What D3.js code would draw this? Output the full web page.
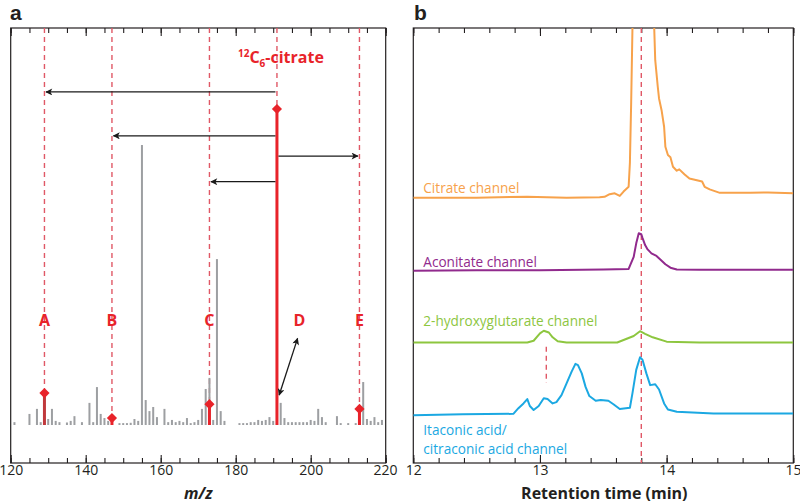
<!DOCTYPE html>
<html lang="en">
<head>
    <meta charset="utf-8">
    <title>MS/MS spectrum and channels</title>
    <script src="https://d3js.org/d3.v7.min.js"></script>
    <style>
        body { margin: 0; background: #fff; }
        svg { font-family: 'Open Sans', 'Noto Sans', sans-serif; }
    </style>
</head>
<body>
<svg width="800" height="504" id="mainsvg"></svg>

<script>
    // ---- panel a: spectrum (relative intensity, precursor = 100)
    const spectrumMz  = [121, 125, 127, 128, 130, 131, 132, 133, 135, 136, 137, 139, 141, 142, 143, 144, 145, 146,
                         149, 150, 151, 152, 153, 154, 155, 156, 157, 158, 159, 161, 162, 163, 164, 165, 166, 167,
                         168, 169, 170, 171, 172, 173, 174, 175, 176, 177, 181, 182, 183, 184, 185, 186, 187, 188,
                         189, 190, 192, 193, 194, 195, 196, 197, 198, 199, 200, 201, 202, 203, 204, 207, 208, 210,
                         212, 214, 215, 216, 217, 218, 219]
    const spectrumInt = [0.9, 3.5, 5.1, 0.9, 1.9, 5.1, 1.3, 0.9, 0.8, 1.3, 2.8, 0.9, 7.0, 0.9, 12.0, 3.5, 2.2, 1.3,
                         0.6, 0.6, 0.6, 0.7, 1.9, 1.3, 88.6, 7.9, 4.4, 5.7, 2.5, 5.1, 0.9, 1.6, 0.9, 1.3, 0.9, 2.2,
                         0.6, 0.9, 1.6, 5.1, 11.4, 14.9, 1.6, 52.5, 4.4, 1.3, 0.6, 0.6, 0.6, 0.9, 0.9, 1.6, 1.3, 1.6,
                         2.5, 1.3, 7.0, 2.2, 0.9, 0.9, 0.9, 0.9, 0.9, 0.9, 1.6, 1.3, 5.1, 2.5, 0.9, 2.8, 0.6, 0.6,
                         0.6, 13.6, 1.9, 1.3, 2.5, 0.9, 1.6]

    const precursorMz = 191
    const precursorInt = 100
    const fragmentMz = [129, 147, 173, 213]
    const fragmentInt = [10.1, 2.2, 6.6, 5.1]
    const fragmentLabels = ['A', 'B', 'C', 'E']
    const arrowLevels = [105.4, 91.5, 77.0, 85.1]   // neutral-loss arrows, same order as fragments
    const labelLevel = 33.2
    const dLabel = {mz: 197, text: 'D', from: [191.6, 9.5], to: [196.5, 27.4]}

    const mzMajor = d3.range(120, 221, 20)
    const mzMinor = d3.range(120, 221, 5)

    // ---- panel b: extracted ion channels (stacked, arbitrary units)
    const citrateTime = [12.0, 12.5, 12.9, 13.21, 13.47, 13.51, 13.55, 13.59, 13.63, 13.66, 13.7, 13.71, 13.72, 13.745,
                         13.875, 13.91, 13.93, 13.94, 13.96, 13.98, 13.99, 14.01, 14.03, 14.05, 14.08, 14.1, 14.14,
                         14.18, 14.28, 14.3, 14.34, 14.42, 14.66, 14.8, 15.0]
    const citrateVal  = [61.0, 61.0, 61.2, 61.0, 61.1, 61.2, 61.8, 62.0, 61.4, 62.4, 63.5, 69.0, 82.8, 125,
                         125, 92.6, 86.5, 83.8, 81.1, 77.3, 72.7, 70.8, 70.3, 68.1, 67.2, 67.5, 66.4,
                         65.4, 64.7, 63.5, 62.9, 62.1, 62.1, 62.2, 62.0]

    const aconitateTime = [12.0, 12.5, 13.0, 13.5, 13.7, 13.74, 13.76, 13.78, 13.8, 13.81, 13.83, 13.85, 13.88, 13.92,
                           13.95, 13.99, 14.03, 14.08, 14.26, 15.0]
    const aconitateVal  = [44.2, 44.3, 44.3, 44.5, 44.6, 47.4, 50.5, 52.8, 52.6, 51.7, 50.1, 49.1, 48.2, 47.6,
                           46.8, 45.7, 44.9, 44.5, 44.4, 44.4]

    const hgTime = [12.0, 12.5, 12.9, 12.95, 13.0, 13.03, 13.07, 13.1, 13.14, 13.21, 13.61, 13.74, 13.79, 13.83,
                    13.89, 14.0, 14.26, 15.0]
    const hgVal  = [27.7, 27.7, 27.7, 28.1, 29.8, 30.4, 30.0, 28.9, 28.0, 27.7, 27.7, 29.2, 30.3, 29.7,
                    28.9, 27.9, 27.7, 27.7]

    const itaTime = [12.0, 12.39, 12.79, 12.83, 12.87, 12.9, 12.92, 12.95, 12.99, 13.03, 13.06, 13.1, 13.13, 13.17,
                     13.21, 13.25, 13.28, 13.3, 13.33, 13.36, 13.39, 13.44, 13.48, 13.54, 13.58, 13.63, 13.71,
                     13.73, 13.76, 13.79, 13.81, 13.84, 13.87, 13.91, 13.94, 13.98, 14.01, 14.08, 14.37, 14.63, 15.0]
    const itaVal  = [11.0, 11.2, 11.3, 12.6, 13.7, 14.7, 13.1, 12.2, 13.1, 14.9, 14.7, 13.7, 14.0, 15.6,
                     18.3, 21.0, 22.8, 22.5, 20.6, 17.5, 15.4, 14.3, 14.5, 14.3, 13.5, 12.4, 12.7,
                     16.0, 21.4, 24.3, 23.7, 20.6, 17.9, 18.1, 16.9, 13.7, 12.3, 11.8, 11.4, 11.4, 11.4]

    const channelNames = ['Citrate channel', 'Aconitate channel', '2-hydroxyglutarate channel',
                          ['Itaconic acid/', 'citraconic acid channel']]
    const channelLabelVal = [62.0, 45.1, 31.5, 6.5]
    const channelColors = ['#f7a24b', '#912a8d', '#8dc63f', '#1ba8e2']

    const rtMajor = [12, 13, 14, 15]
    const rtMinor = d3.range(12, 15.01, 0.2)
    const citrateRT = 13.8
    const hgMarkRT = 13.05
    const hgMarkRange = [18.4, 26.7]

    // ---------------------------------------------------------------
    const svg = d3.select('#mainsvg')
    const red = '#e8232a'
    const dashRed = '#e05866'
    const frameTop = 28, frameBottom = 463

    const defs = svg.append('defs')
    const addMarker = (id, orient) => defs.append('marker')
        .attr('id', id)
        .attr('viewBox', '0 0 10 10')
        .attr('refX', 9).attr('refY', 5)
        .attr('markerWidth', 9).attr('markerHeight', 7)
        .attr('markerUnits', 'userSpaceOnUse')
        .attr('orient', orient)
        .append('path').attr('d', 'M0,0 L10,5 L0,10 L2.5,5 z').attr('fill', '#1a1a1a')
    addMarker('arrow', 'auto')
    addMarker('arrowStart', 'auto-start-reverse')

    // axis helper: frame with inward ticks on top and bottom
    const drawFrame = function (g, x, major, minor, fmt) {
        const [x0, x1] = x.range()
        g.append('rect').attr('x', x0).attr('y', frameTop)
            .attr('width', x1 - x0).attr('height', frameBottom - frameTop)
            .attr('fill', 'none').attr('stroke', '#231f20').attr('stroke-width', 1.2)

        const bottomMinor = g.append('g').attr('transform', `translate(0, ${frameBottom})`)
            .call(d3.axisBottom(x).tickValues(minor).tickSize(-5).tickFormat(''))
        const bottomMajor = g.append('g').attr('transform', `translate(0, ${frameBottom})`)
            .call(d3.axisBottom(x).tickValues(major).tickSize(-8).tickPadding(2).tickFormat(fmt))
        const topMinor = g.append('g').attr('transform', `translate(0, ${frameTop})`)
            .call(d3.axisTop(x).tickValues(minor).tickSize(-5).tickFormat(''))
        const topMajor = g.append('g').attr('transform', `translate(0, ${frameTop})`)
            .call(d3.axisTop(x).tickValues(major).tickSize(-8).tickFormat(''))
        ;[bottomMinor, bottomMajor, topMinor, topMajor].forEach(a => {
            a.selectAll('.domain').remove()
            a.selectAll('.tick line').attr('stroke', '#231f20').attr('stroke-width', 1.1)
        })
        bottomMajor.attr('font-family', null).attr('font-size', null)
        bottomMajor.selectAll('.tick text')
            .attr('font-size', '14px').attr('fill', '#231f20')
        // keep the last label inside the page
        bottomMajor.selectAll('.tick:last-of-type text')
            .attr('text-anchor', 'end').attr('dx', x1 > 790 ? '0.55em' : '0.8em')
    }

    // ================= panel a =================
    const xA = d3.scaleLinear().domain([120, 220]).range([10.7, 385.7])
    const yA = d3.scaleLinear().domain([0, 100]).range([425, 109])
    const gA = svg.append('g')

    drawFrame(gA, xA, mzMajor, mzMinor, d3.format('d'))

    // dashed guides down to each diamond
    fragmentMz.concat([precursorMz]).forEach((m, i) => {
        const v = i < fragmentMz.length ? fragmentInt[i] : precursorInt
        gA.append('line')
            .attr('x1', xA(m)).attr('x2', xA(m))
            .attr('y1', frameTop).attr('y2', yA(v))
            .attr('stroke', dashRed).attr('stroke-width', 1.4)
            .attr('stroke-dasharray', '5,4')
    })

    // gray spectrum bars
    gA.selectAll('.bar').data(spectrumMz).join('rect')
        .attr('class', 'bar')
        .attr('x', d => xA(d) - 1)
        .attr('width', 2)
        .attr('y', (d, i) => yA(spectrumInt[i]))
        .attr('height', (d, i) => yA(0) - yA(spectrumInt[i]))
        .attr('fill', '#9d9fa2')

    // red fragment bars + precursor
    fragmentMz.forEach((m, i) => {
        gA.append('rect')
            .attr('x', xA(m) - 1.5).attr('width', 3)
            .attr('y', yA(fragmentInt[i])).attr('height', yA(0) - yA(fragmentInt[i]))
            .attr('fill', i === 0 ? '#c0393c' : red)
    })
    gA.append('rect')
        .attr('x', xA(precursorMz) - 1.5).attr('width', 3)
        .attr('y', yA(precursorInt)).attr('height', yA(0) - yA(precursorInt))
        .attr('fill', red)

    const diamond = d3.symbol().type(d3.symbolSquare).size(52)
    fragmentMz.concat([precursorMz]).forEach((m, i) => {
        const v = i < fragmentMz.length ? fragmentInt[i] : precursorInt
        gA.append('path').attr('d', diamond())
            .attr('transform', `translate(${xA(m)}, ${yA(v)}) rotate(45)`)
            .attr('fill', red)
    })

    // neutral-loss arrows from the precursor
    fragmentMz.forEach((m, i) => {
        const dir = m < precursorMz ? -1 : 1
        gA.append('line')
            .attr('x1', xA(precursorMz) + dir * 1.5).attr('x2', xA(m) - dir * 1.5)
            .attr('y1', yA(arrowLevels[i])).attr('y2', yA(arrowLevels[i]))
            .attr('stroke', '#1a1a1a').attr('stroke-width', 1.3)
            .attr('marker-end', 'url(#arrow)')
    })

    // fragment letters
    fragmentMz.forEach((m, i) => {
        gA.append('text').text(fragmentLabels[i])
            .attr('x', xA(m)).attr('y', yA(labelLevel))
            .attr('text-anchor', 'middle').attr('dy', '0.36em')
            .attr('font-size', '16px').attr('font-weight', 'bold').attr('fill', red)
    })
    gA.append('text').text(dLabel.text)
        .attr('x', xA(dLabel.mz)).attr('y', yA(labelLevel))
        .attr('text-anchor', 'middle').attr('dy', '0.36em')
        .attr('font-size', '16px').attr('font-weight', 'bold').attr('fill', red)
    gA.append('line')
        .attr('x1', xA(dLabel.from[0])).attr('y1', yA(dLabel.from[1]))
        .attr('x2', xA(dLabel.to[0])).attr('y2', yA(dLabel.to[1]))
        .attr('stroke', '#1a1a1a').attr('stroke-width', 1.3)
        .attr('marker-start', 'url(#arrowStart)').attr('marker-end', 'url(#arrow)')

    // precursor label 12C6-citrate
    const citLabel = gA.append('text')
        .attr('x', xA(precursorMz) - 39).attr('y', 63)
        .attr('font-size', '16px').attr('font-weight', 'bold').attr('fill', red)
    citLabel.append('tspan').text('12').attr('font-size', '10px').attr('dy', -6)
    citLabel.append('tspan').text('C').attr('dy', 6)
    citLabel.append('tspan').text('6').attr('font-size', '10px').attr('dy', 4)
    citLabel.append('tspan').text('-citrate').attr('dy', -4)

    gA.append('text').text('m/z')
        .attr('x', (xA.range()[0] + xA.range()[1]) / 2).attr('y', 499)
        .attr('text-anchor', 'middle')
        .attr('font-size', '16px').attr('font-weight', 'bold').attr('font-style', 'italic')
        .attr('fill', '#231f20')

    svg.append('text').text('a').attr('x', 10).attr('y', 19.5)
        .style('font-family', "'Liberation Sans', Arial, sans-serif")
        .attr('font-size', '21px').attr('font-weight', 'bold').attr('fill', '#231f20')

    // ================= panel b =================
    const xB = d3.scaleLinear().domain([12, 15]).range([413.3, 793.3])
    const yB = d3.scaleLinear().domain([0, 100]).range([frameBottom, frameTop])
    const gB = svg.append('g')

    defs.append('clipPath').attr('id', 'clipB')
        .append('rect').attr('x', xB.range()[0]).attr('y', frameTop)
        .attr('width', xB.range()[1] - xB.range()[0]).attr('height', frameBottom - frameTop)

    drawFrame(gB, xB, rtMajor, rtMinor, d3.format('d'))

    gB.append('line')
        .attr('x1', xB(citrateRT)).attr('x2', xB(citrateRT))
        .attr('y1', frameTop).attr('y2', frameBottom)
        .attr('stroke', dashRed).attr('stroke-width', 1.4).attr('stroke-dasharray', '5,4')
    gB.append('line')
        .attr('x1', xB(hgMarkRT)).attr('x2', xB(hgMarkRT))
        .attr('y1', yB(hgMarkRange[1])).attr('y2', yB(hgMarkRange[0]))
        .attr('stroke', dashRed).attr('stroke-width', 1.4).attr('stroke-dasharray', '5,4')

    const traces = [[citrateTime, citrateVal], [aconitateTime, aconitateVal], [hgTime, hgVal], [itaTime, itaVal]]
    const line = d3.line().x(d => xB(d[0])).y(d => yB(d[1]))

    traces.forEach(([t, v], i) => {
        gB.append('path')
            .attr('d', line(t.map((d, j) => [d, v[j]])))
            .attr('fill', 'none').attr('stroke', channelColors[i])
            .attr('stroke-width', 2).attr('stroke-linejoin', 'round')
            .attr('clip-path', 'url(#clipB)')
    })

    channelNames.forEach((name, i) => {
        const lines = Array.isArray(name) ? name : [name]
        const label = gB.append('text')
            .attr('x', xB(12) + 10).attr('y', yB(channelLabelVal[i]))
            .attr('font-size', '13.6px').attr('fill', channelColors[i])
        lines.forEach((s, k) => {
            label.append('tspan').text(s)
                .attr('x', xB(12) + 10).attr('dy', k === 0 ? 0 : 18.8)
        })
    })

    gB.append('text').text('Retention time (min)')
        .attr('x', (xB.range()[0] + xB.range()[1]) / 2 + 1).attr('y', 499)
        .attr('text-anchor', 'middle')
        .attr('font-size', '16px').attr('font-weight', 'bold').attr('fill', '#231f20')

    svg.append('text').text('b').attr('x', 414).attr('y', 19.5)
        .style('font-family', "'Liberation Sans', Arial, sans-serif")
        .attr('font-size', '21px').attr('font-weight', 'bold').attr('fill', '#231f20')
</script>
</body>
</html>
